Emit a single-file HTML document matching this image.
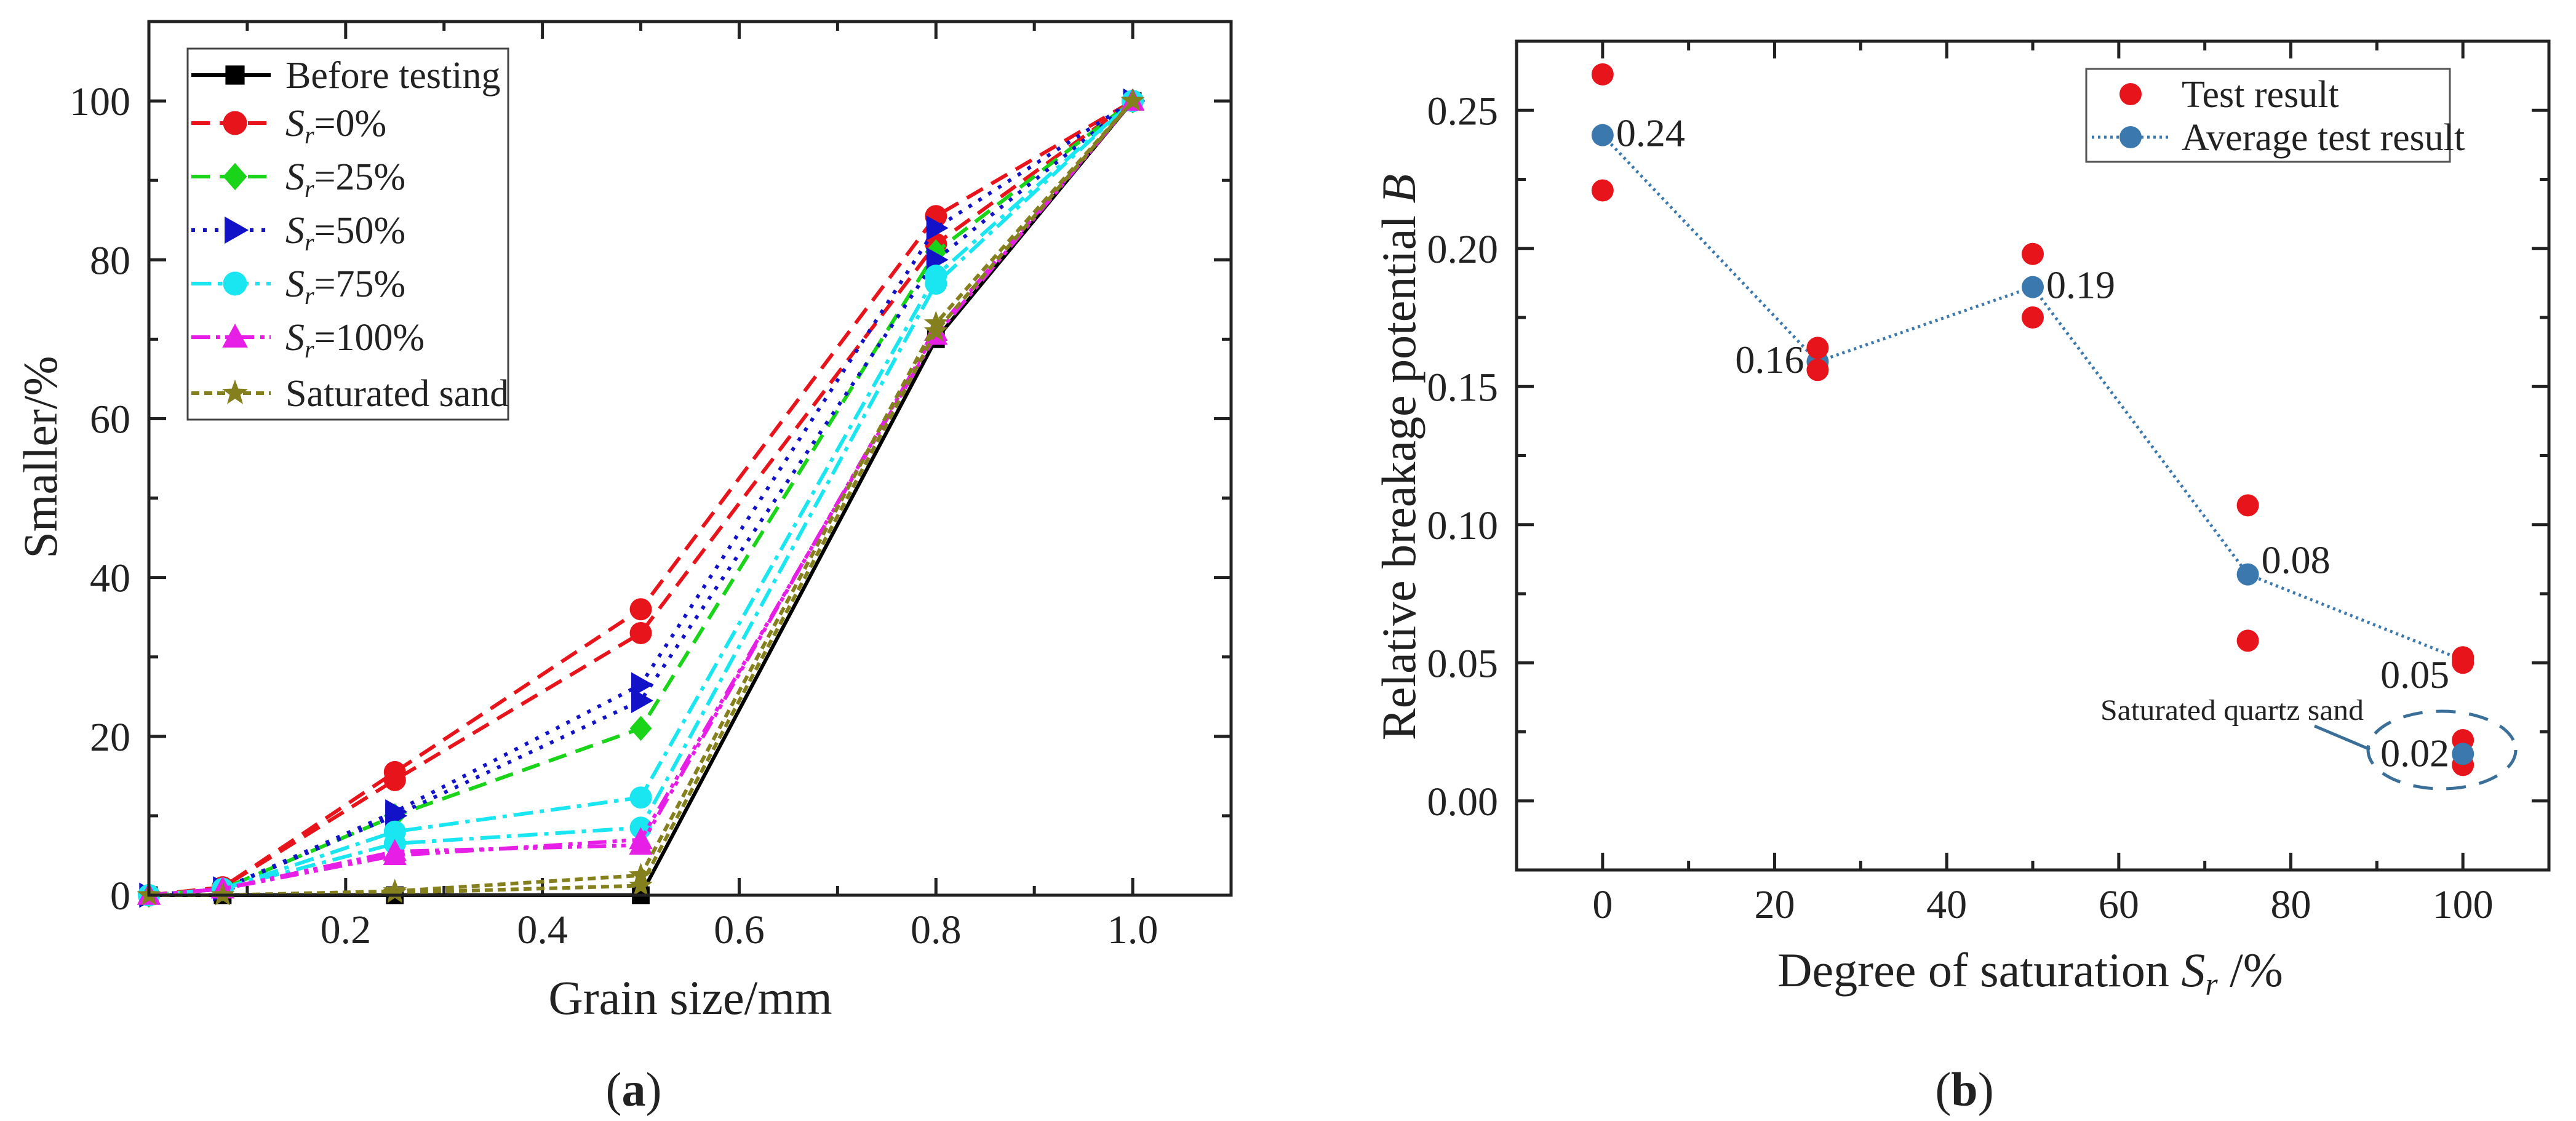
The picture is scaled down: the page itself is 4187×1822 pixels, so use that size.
<!DOCTYPE html>
<html><head><meta charset="utf-8"><style>
html,body{margin:0;padding:0;background:#fff;}
svg{display:block;font-family:"Liberation Serif",serif;}
</style></head><body>
<svg id="fig" width="4187" height="1822" viewBox="0 0 4187 1822" xmlns="http://www.w3.org/2000/svg"></svg>
<script>
// ---------- Panel (a) data ----------
const gsX = [0, 0.075, 0.25, 0.5, 0.8, 1.0];
const beforeY = [0, 0, 0, 0, 70, 100];
const sr0aY = [0, 1, 15.5, 36, 85.5, 100];
const sr0bY = [0, 1, 14.5, 33, 82, 100];
const sr25Y = [0, 0.8, 10, 21, 81, 100];
const sr50aY = [0, 0.8, 10.5, 26.5, 84, 100];
const sr50bY = [0, 0.8, 10, 24.5, 80, 100];
const sr75aY = [0, 0.8, 8, 12.3, 78, 100];
const sr75bY = [0, 0.8, 6.5, 8.5, 77, 100];
const sr100aY = [0, 0.8, 5, 7, 70.5, 100];
const sr100bY = [0, 0.8, 5.5, 6.3, 71, 100];
const satAY = [0, 0, 0.5, 2.5, 72, 100];
const satBY = [0, 0, 0.3, 1.2, 71, 100];
const aXTicks = [0.2, 0.4, 0.6, 0.8, 1.0];
const aXTickLabels = ["0.2", "0.4", "0.6", "0.8", "1.0"];
const aYTicks = [0, 20, 40, 60, 80, 100];
const aYTickLabels = ["0", "20", "40", "60", "80", "100"];
// ---------- Panel (b) data ----------
const testX = [0, 0, 25, 25, 50, 50, 75, 75, 100, 100, 100, 100];
const testY = [0.263, 0.221, 0.164, 0.156, 0.198, 0.175, 0.107, 0.058, 0.052, 0.050, 0.022, 0.013];
const avgX = [0, 25, 50, 75, 100];
const avgY = [0.241, 0.159, 0.186, 0.082, 0.051];
const avgLabels = ["0.24", "0.16", "0.19", "0.08", "0.05"];
const satX = [100];
const satY = [0.017];
const satLabels = ["0.02"];
const bXTicks = [0, 20, 40, 60, 80, 100];
const bXTickLabels = ["0", "20", "40", "60", "80", "100"];
const bYTicks = [0, 0.05, 0.10, 0.15, 0.20, 0.25];
const bYTickLabels = ["0.00", "0.05", "0.10", "0.15", "0.20", "0.25"];

const NS = "http://www.w3.org/2000/svg";
const svg = document.getElementById("fig");
function mk(tag, attrs, parent) {
  const e = document.createElementNS(NS, tag);
  for (const k in attrs) e.setAttribute(k, attrs[k]);
  (parent || svg).appendChild(e);
  return e;
}

const aL = 242, aR = 2001, aT = 35, aB = 1455;
const ax = v => aL + (v - 0) / 1.1 * (aR - aL);
const ay = v => aB - v / 110 * (aB - aT);
const bL = 2465, bR = 4143, bT = 67, bB = 1414;
const bx = v => bL + (v + 10) / 120 * (bR - bL);
const by = v => bB - (v + 0.025) / 0.3 * (bB - bT);

function frame(L, R, T, B, name) {
  const r = mk("rect", {x: L, y: T, width: R - L, height: B - T, fill: "none", stroke: "#222", "stroke-width": 5});
  
  
}
function ticksX(vals, sx, T, B, len) {
  vals.forEach(v => {
    const x = sx(v);
    mk("line", {x1: x, y1: B, x2: x, y2: B - len, stroke: "#222", "stroke-width": 5});
    mk("line", {x1: x, y1: T, x2: x, y2: T + len, stroke: "#222", "stroke-width": 5});
  });
}
function ticksY(vals, sy, L, R, len) {
  vals.forEach(v => {
    const y = sy(v);
    mk("line", {x1: L, y1: y, x2: L + len, y2: y, stroke: "#222", "stroke-width": 5});
    mk("line", {x1: R, y1: y, x2: R - len, y2: y, stroke: "#222", "stroke-width": 5});
  });
}
function txt(x, y, s, size, anchor, name, extra) {
  const t = mk("text", Object.assign({x: x, y: y, "font-size": size, "text-anchor": anchor || "middle", fill: "#222"}, extra || {}));
  t.textContent = s;
  
  
  return t;
}

// ---------------- Panel (a) ----------------
ticksX(aXTicks, ax, aT, aB, 28);
ticksX([0.1, 0.3, 0.5, 0.7, 0.9], ax, aT, aB, 15);
ticksY(aYTicks, ay, aL, aR, 28);
ticksY([10, 30, 50, 70, 90], ay, aL, aR, 15);
aXTicks.forEach((v, i) => txt(ax(v), 1533, aXTickLabels[i], 66, "middle", "x-tick-label-a"));
aYTicks.forEach((v, i) => txt(212, ay(v) + 23, aYTickLabels[i], 66, "end", "y-tick-label-a"));

function marker(g, type, x, y, color, sc) {
  let e;
  const s = sc || 1.2;
  if (type === "square") e = mk("rect", {x: x - 12*s, y: y - 12*s, width: 24*s, height: 24*s, fill: color}, g);
  else if (type === "circle") e = mk("circle", {cx: x, cy: y, r: 15*s, fill: color}, g);
  else if (type === "diamond") e = mk("polygon", {points: `${x},${y-17*s} ${x+15*s},${y} ${x},${y+17*s} ${x-15*s},${y}`, fill: color}, g);
  else if (type === "tri-right") e = mk("polygon", {points: `${x-13*s},${y-17*s} ${x+17*s},${y} ${x-13*s},${y+17*s}`, fill: color}, g);
  else if (type === "tri-up") e = mk("polygon", {points: `${x},${y-17*s} ${x+16*s},${y+13*s} ${x-16*s},${y+13*s}`, fill: color}, g);
  else if (type === "star") {
    let p = [];
    for (let k = 0; k < 10; k++) {
      const rr = (k % 2 ? 7 : 17) * s, a = -Math.PI / 2 + k * Math.PI / 5;
      p.push((x + rr * Math.cos(a)).toFixed(1) + "," + (y + rr * Math.sin(a)).toFixed(1));
    }
    e = mk("polygon", {points: p.join(" "), fill: color}, g);
  }
  return e;
}
const seriesA = [
  {name: "series-before-testing", ys: beforeY, color: "#000", dash: "", mk: "square"},
  {name: "series-sr0-a", ys: sr0aY, color: "#e8141b", dash: "30,16", mk: "circle"},
  {name: "series-sr0-b", ys: sr0bY, color: "#e8141b", dash: "30,16", mk: "circle"},
  {name: "series-sr25", ys: sr25Y, color: "#19d419", dash: "30,16", mk: "diamond"},
  {name: "series-sr50-a", ys: sr50aY, color: "#1212c8", dash: "6,13", mk: "tri-right"},
  {name: "series-sr50-b", ys: sr50bY, color: "#1212c8", dash: "6,13", mk: "tri-right"},
  {name: "series-sr75-a", ys: sr75aY, color: "#19e6f0", dash: "32,11,7,11", mk: "circle"},
  {name: "series-sr75-b", ys: sr75bY, color: "#19e6f0", dash: "32,11,7,11", mk: "circle"},
  {name: "series-sr100-a", ys: sr100aY, color: "#e61ee6", dash: "30,10,7,8,7,10", mk: "tri-up"},
  {name: "series-sr100-b", ys: sr100bY, color: "#e61ee6", dash: "30,10,7,8,7,10", mk: "tri-up"},
  {name: "series-saturated-sand-a", ys: satAY, color: "#85801e", dash: "13,8", mk: "star"},
  {name: "series-saturated-sand-b", ys: satBY, color: "#85801e", dash: "13,8", mk: "star"}
];
seriesA.forEach(s => {
  const g = mk("g", {});
  
  
  const pts = gsX.map((v, i) => ax(v).toFixed(1) + "," + ay(s.ys[i]).toFixed(1)).join(" ");
  const pl = mk("polyline", {points: pts, fill: "none", stroke: s.color, "stroke-width": 6, "stroke-dasharray": s.dash}, g);
  
  
  gsX.forEach((v, i) => {
    const m = marker(g, s.mk, ax(v), ay(s.ys[i]), s.color);
    
    
  });
});
frame(aL, aR, aT, aB, "plot-frame-a");

const lgA = mk("g", {});


mk("rect", {x: 305, y: 79, width: 521, height: 603, fill: "#fff", stroke: "#444", "stroke-width": 3}, lgA);
const legA = [
  {t: "Before testing", c: "#000", d: "", m: "square", sr: false},
  {t: "=0%", c: "#e8141b", d: "30,16", m: "circle", sr: true},
  {t: "=25%", c: "#19d419", d: "30,16", m: "diamond", sr: true},
  {t: "=50%", c: "#1212c8", d: "6,13", m: "tri-right", sr: true},
  {t: "=75%", c: "#19e6f0", d: "32,11,7,11", m: "circle", sr: true},
  {t: "=100%", c: "#e61ee6", d: "30,10,7,8,7,10", m: "tri-up", sr: true},
  {t: "Saturated sand", c: "#85801e", d: "13,8", m: "star", sr: false}
];
const legAY = [122, 200, 287, 374, 461, 548, 639];
legA.forEach((e, i) => {
  const y = legAY[i];
  const g = mk("g", {}, lgA);
  
  
  mk("line", {x1: 311, y1: y, x2: 440, y2: y, stroke: e.c, "stroke-width": 6, "stroke-dasharray": e.d}, g);
  marker(g, e.m, 382, y, e.c, 1.3);
  const t = mk("text", {x: 464, y: y + 21, "font-size": 62, fill: "#222"}, g);
  if (e.sr) {
    const s1 = mk("tspan", {"font-style": "italic"}, t); s1.textContent = "S";
    const s2 = mk("tspan", {"font-style": "italic", "font-size": 40, dy: 12}, t); s2.textContent = "r";
    const s3 = mk("tspan", {dy: -12}, t); s3.textContent = e.t;
  } else t.textContent = e.t;
});
txt(1122, 1648, "Grain size/mm", 78, "middle", "x-axis-title-a");
txt(92, 743, "Smaller/%", 78, "middle", "y-axis-title-a", {transform: "rotate(-90 92 743)"});
const pa = mk("text", {x: 1030, y: 1797, "font-size": 78, "text-anchor": "middle", fill: "#222"});


pa.innerHTML = '(<tspan font-weight="bold">a</tspan>)';

// ---------------- Panel (b) ----------------
ticksX(bXTicks, bx, bT, bB, 28);
ticksX([10, 30, 50, 70, 90], bx, bT, bB, 15);
ticksY(bYTicks, by, bL, bR, 28);
ticksY([0.025, 0.075, 0.125, 0.175, 0.225], by, bL, bR, 15);
bXTicks.forEach((v, i) => txt(bx(v), 1492, bXTickLabels[i], 66, "middle", "x-tick-label-b"));
bYTicks.forEach((v, i) => txt(2435, by(v) + 23, bYTickLabels[i], 66, "end", "y-tick-label-b"));

const avgG = mk("g", {});


const apts = avgX.map((v, i) => bx(v).toFixed(1) + "," + by(avgY[i]).toFixed(1)).join(" ");
mk("polyline", {points: apts, fill: "none", stroke: "#3a78ad", "stroke-width": 5, "stroke-dasharray": "4,6"}, avgG);

const testG = mk("g", {});


testX.forEach((v, i) => {
  const c = mk("circle", {cx: bx(v), cy: by(testY[i]), r: 18, fill: "#e8141b"}, testG);
  
  
});
const labelOffs = [[22, 18, "start"], [-22, 18, "end"], [22, 18, "start"], [22, -2, "start"], [-22, 45, "end"]];
avgX.forEach((v, i) => {
  const c = mk("circle", {cx: bx(v), cy: by(avgY[i]), r: 18, fill: "#3a78ad"}, avgG);
  
  
  txt(bx(v) + labelOffs[i][0], by(avgY[i]) + labelOffs[i][1], avgLabels[i], 64, labelOffs[i][2], "average-value-label");
});
satX.forEach((v, i) => {
  const c = mk("circle", {cx: bx(v), cy: by(satY[i]), r: 18, fill: "#3a78ad"});
  
  
  txt(bx(v) - 22, by(satY[i]) + 20, satLabels[i], 64, "end", "saturated-value-label");
});
const ell = mk("ellipse", {cx: 3969, cy: 1219, rx: 120, ry: 63, fill: "none", stroke: "#3a6f9a", "stroke-width": 5, "stroke-dasharray": "32,22"});


const ld = mk("line", {x1: 3762, y1: 1180, x2: 3852, y2: 1218, stroke: "#3a6f9a", "stroke-width": 5});


txt(3628, 1170, "Saturated quartz sand", 48, "middle", "saturated-quartz-sand-annotation", {textLength: 428, lengthAdjust: "spacingAndGlyphs"});
frame(bL, bR, bT, bB, "plot-frame-b");

const lgB = mk("g", {});


mk("rect", {x: 3391, y: 112, width: 591, height: 151, fill: "#fff", stroke: "#555", "stroke-width": 3}, lgB);
mk("circle", {cx: 3463, cy: 153, r: 18, fill: "#e8141b"}, lgB);
txt(3546, 174, "Test result", 62, "start", "legend-entry-test-result");
mk("line", {x1: 3400, y1: 223, x2: 3526, y2: 223, stroke: "#3a78ad", "stroke-width": 5, "stroke-dasharray": "4,6"}, lgB);
mk("circle", {cx: 3463, cy: 223, r: 18, fill: "#3a78ad"}, lgB);
txt(3546, 244, "Average test result", 62, "start", "legend-entry-average-test-result");

const xt = mk("text", {x: 3300, y: 1603, "font-size": 78, "text-anchor": "middle", fill: "#222"});


const x1 = mk("tspan", {}, xt); x1.textContent = "Degree of saturation ";
const x2 = mk("tspan", {"font-style": "italic"}, xt); x2.textContent = "S";
const x3 = mk("tspan", {"font-style": "italic", "font-size": 52, dy: 14}, xt); x3.textContent = "r";
const x4 = mk("tspan", {dy: -14}, xt); x4.textContent = " /%";
const yt = mk("text", {x: 2300, y: 743, "font-size": 78, "text-anchor": "middle", fill: "#222", transform: "rotate(-90 2300 743)"});


const y1 = mk("tspan", {}, yt); y1.textContent = "Relative breakage potential ";
const y2 = mk("tspan", {"font-style": "italic"}, yt); y2.textContent = "B";
const pb = mk("text", {x: 3193, y: 1797, "font-size": 78, "text-anchor": "middle", fill: "#222"});


pb.innerHTML = '(<tspan font-weight="bold">b</tspan>)';
</script>
</body></html>
